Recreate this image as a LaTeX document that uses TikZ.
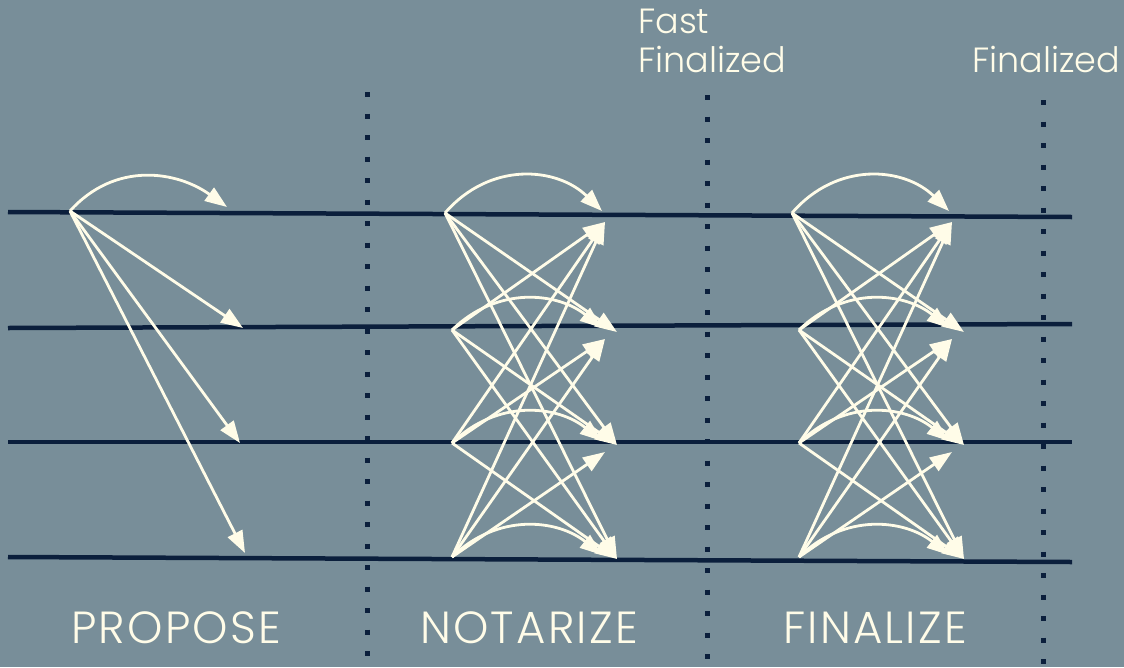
\documentclass[tikz,border=0pt]{standalone}
\usepackage{fontspec}
\setmainfont{Poppins}[UprightFont={* Light}]
\usetikzlibrary{arrows.meta}
\definecolor{slate}{HTML}{788E99}
\definecolor{navy}{HTML}{0B1F3C}
\definecolor{cream}{HTML}{FFFCE8}

\begin{document}
\begin{tikzpicture}[x=1pt, y=-1pt, >={Triangle[length=22pt,width=16pt]},
	rail/.style={navy, line width=4.5pt},
	slot/.style={navy, line width=5pt, dash pattern=on 5pt off 16.5pt},
	msg/.style={->, cream, line width=2.8pt},
	phase/.style={cream, anchor=base, inner sep=0pt, font=\fontsize{45}{50}\selectfont\addfontfeatures{LetterSpace=5}},
	status/.style={cream, anchor=base west, inner sep=0pt, align=left, font=\fontsize{35}{39}\selectfont}]
	\fill[slate] (0,0) rectangle (1124,667);
	\useasboundingbox (0,0) rectangle (1124,667);
	% rails, one per validator
	\coordinate (r1w) at (8,212);  \coordinate (r1e) at (1072,217);
	\coordinate (r2w) at (8,328);  \coordinate (r2e) at (1072,324);
	\coordinate (r3w) at (8,442);  \coordinate (r3e) at (1072,442);
	\coordinate (r4w) at (8,557);  \coordinate (r4e) at (1072,562);
	\foreach \i in {1,...,4}
		\draw[rail] (r\i w) -- (r\i e);
	% phase borders
	\coordinate (b1n) at (367,92);  \coordinate (b1s) at (367,664);
	\coordinate (b2n) at (707,95);  \coordinate (b2s) at (707,664);
	\coordinate (b3n) at (1043,100); \coordinate (b3s) at (1043,664);
	\foreach \i in {1,2,3}
		\draw[slot] (b\i n) -- (b\i s);
	% propose
	\coordinate (p-src) at (70,211);
	\coordinate (p-t1) at (227,207);
	\coordinate (p-t2) at (243,328);
	\coordinate (p-t3) at (240,443);
	\coordinate (p-t4) at (245,553);
	\draw[msg] (p-src) .. controls +(45,-50) and +(-50,-36) .. (p-t1);
	\foreach \t in {2,3,4}
		\draw[msg] (p-src) -- (p-t\t);
	% notarize and finalize: all to all
	\foreach \ph/\dx in {n/0, f/347} {
		\foreach \i/\x/\y/\h in {1/445/213/52, 2/452/330/44, 3/452/443/44, 4/452/557/44} {
			\coordinate (\ph-s\i) at (\x+\dx,\y);
			\coordinate (\ph-t\i) at (615+\dx,\y);
			\draw[msg] (\ph-s\i) .. controls +(45,-\h) and +(-45,-\h+8) .. ([shift={(-13,-2)}]\ph-t\i);
		}
		\foreach \s in {1,...,4} {
			\foreach \t in {1,...,4} {
				\ifnum\s<\t
					\draw[msg] (\ph-s\s) -- ([shift={(2,2)}]\ph-t\t);
				\else\ifnum\s>\t
					\draw[msg] (\ph-s\s) -- ([shift={(-10,9)}]\ph-t\t);
				\fi\fi
			}
		}
	}
	% labels
	\node[phase] (propose) at (176,643) {PROPOSE};
	\node[phase] (notarize) at (529,643) {NOTARIZE};
	\node[phase] (finalize) at (875,643) {FINALIZE};
	\node[status] (fast) at (638,72) {Fast\\Finalized};
	\node[status] (final) at (972,72) {Finalized};
\end{tikzpicture}
\end{document}
